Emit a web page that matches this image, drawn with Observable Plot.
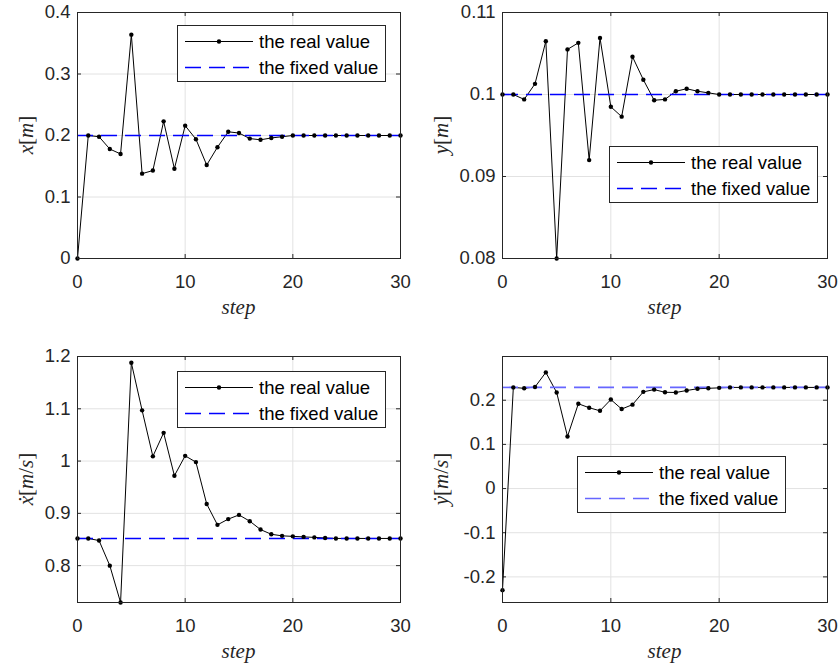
<!DOCTYPE html>
<html><head><meta charset="utf-8">
<script src="https://cdn.jsdelivr.net/npm/d3@7"></script>
<script src="https://cdn.jsdelivr.net/npm/@observablehq/plot@0.6"></script>
<style>
body{margin:0;background:#fff;}
#fig{position:relative;width:840px;height:668px;background:#fff;overflow:hidden;font-family:"Liberation Sans",Arial,sans-serif;color:#262626;}
.panel{position:absolute;}
.ylab{position:absolute;font-family:"Liberation Serif","DejaVu Serif",serif;font-size:21px;color:#262626;transform:translate(-50%,-50%) rotate(-90deg);white-space:nowrap;line-height:1;}
.xlab{position:absolute;font-family:"Liberation Serif","DejaVu Serif",serif;font-style:italic;font-size:21px;color:#262626;transform:translate(-50%,-50%);white-space:nowrap;line-height:1;}
.ylab i{font-style:italic;}
.legend{position:absolute;width:209px;height:57px;border:1px solid #262626;background:#fff;box-sizing:border-box;}
.legend .row{position:absolute;left:0;height:27px;width:100%;}
.legend svg{position:absolute;left:6px;top:0;}
.legend span{position:absolute;left:81px;top:50%;transform:translateY(-50%);font-size:18.5px;white-space:nowrap;color:#000;line-height:1;}
</style>
</head><body>
<div id="fig"></div>
<script>
// ---- data ----
const steps = [0,1,2,3,4,5,6,7,8,9,10,11,12,13,14,15,16,17,18,19,20,21,22,23,24,25,26,27,28,29,30];
const xTicks = [0, 10, 20, 30];

const xReal = [0, 0.200, 0.198, 0.178, 0.170, 0.364, 0.138, 0.143, 0.223, 0.146, 0.216, 0.194, 0.152, 0.181, 0.206, 0.204, 0.195, 0.193, 0.196, 0.198, 0.200, 0.200, 0.200, 0.200, 0.200, 0.200, 0.200, 0.200, 0.200, 0.200, 0.200];
const xFixed = 0.2;
const xYTicks = [0, 0.1, 0.2, 0.3, 0.4];

const yReal = [0.1000, 0.1000, 0.0994, 0.1013, 0.1065, 0.0800, 0.1055, 0.1063, 0.0920, 0.1069, 0.0985, 0.0973, 0.1046, 0.1018, 0.0993, 0.0994, 0.1004, 0.1007, 0.1004, 0.1002, 0.1000, 0.1000, 0.1000, 0.1000, 0.1000, 0.1000, 0.1000, 0.1000, 0.1000, 0.1000, 0.1000];
const yFixed = 0.1;
const yYTicks = [0.08, 0.09, 0.1, 0.11];

const xdReal = [0.852, 0.852, 0.848, 0.800, 0.7295, 1.188, 1.097, 1.009, 1.054, 0.972, 1.010, 0.998, 0.918, 0.878, 0.889, 0.897, 0.885, 0.869, 0.860, 0.857, 0.856, 0.855, 0.854, 0.853, 0.852, 0.852, 0.852, 0.852, 0.852, 0.852, 0.852];
const xdFixed = 0.852;
const xdYTicks = [0.8, 0.9, 1, 1.1, 1.2];

const ydReal = [-0.230, 0.229, 0.227, 0.230, 0.263, 0.2175, 0.118, 0.192, 0.183, 0.176, 0.2015, 0.180, 0.190, 0.219, 0.224, 0.218, 0.2175, 0.222, 0.226, 0.227, 0.228, 0.229, 0.229, 0.229, 0.229, 0.229, 0.229, 0.229, 0.229, 0.229, 0.229];
const ydFixed = 0.229;
const ydYTicks = [-0.2, -0.1, 0, 0.1, 0.2];

const legendLabels = ["the real value", "the fixed value"];

// ---- drawing ----
const fmt = d => String(Math.round(d * 1e6) / 1e6);
const fig = document.getElementById("fig");

const panels = [
  {left:0,   top:0,   ml:77, mr:20, mt:12, mb:76, domain:[0,0.4],         ticks:xYTicks,  real:xReal,  fixed:xFixed,  blue:"#0000ff",
   ylab:'<i>x</i>[<i>m</i>]',          lx:26,  ly:135, xlx:238.5, xly:307, legL:177, legT:25},
  {left:420, top:0,   ml:82, mr:13, mt:12, mb:76, domain:[0.08,0.11],     ticks:yYTicks,  real:yReal,  fixed:yFixed,  blue:"#0000ff",
   ylab:'<i>y</i>[<i>m</i>]',          lx:441, ly:135, xlx:664.5, xly:307, legL:609, legT:146},
  {left:0,   top:334, ml:77, mr:20, mt:22, mb:66, domain:[0.7295,1.2],    ticks:xdYTicks, real:xdReal, fixed:xdFixed, blue:"#0000ff",
   ylab:'<i>ẋ</i>[<i>m</i>/<i>s</i>]', lx:26,  ly:479, xlx:238.5, xly:651, legL:177, legT:371},
  {left:420, top:334, ml:82, mr:13, mt:22, mb:66, domain:[-0.258,0.299],  ticks:ydYTicks, real:ydReal, fixed:ydFixed, blue:"#6666ff",
   ylab:'<i>ẏ</i>[<i>m</i>/<i>s</i>]', lx:441, ly:479, xlx:664.5, xly:651, legL:577, legT:456}
];

for (const p of panels) {
  const data = steps.map((s, i) => ({step: s, v: p.real[i]}));
  const W = 420, H = 334;
  const fw = W - p.ml - p.mr, fh = H - p.mt - p.mb;
  const chart = Plot.plot({
    width: W, height: H,
    marginLeft: p.ml, marginRight: p.mr, marginTop: p.mt, marginBottom: p.mb,
    style: {background: "transparent", fontFamily: "'Liberation Sans', Arial, sans-serif", fontSize: "18.5px", color: "#262626", overflow: "visible"},
    x: {domain: [0, 30]},
    y: {domain: p.domain},
    marks: [
      Plot.gridX(xTicks, {stroke: "#e2e2e2", strokeOpacity: 1}),
      Plot.gridY(p.ticks, {stroke: "#e2e2e2", strokeOpacity: 1}),
      Plot.tickX(xTicks, {x: d => d, stroke: "#262626", insetTop: fh - 4}),
      Plot.tickX(xTicks, {x: d => d, stroke: "#262626", insetBottom: fh - 4}),
      Plot.tickY(p.ticks, {y: d => d, stroke: "#262626", insetRight: fw - 4}),
      Plot.tickY(p.ticks, {y: d => d, stroke: "#262626", insetLeft: fw - 4}),
      Plot.axisX(xTicks, {tickSize: 0, tickPadding: 16, label: null, tickFormat: fmt, fill: "#262626"}),
      Plot.axisY(p.ticks, {tickSize: 0, tickPadding: 7, label: null, tickFormat: fmt, fill: "#262626"}),
      Plot.line(data, {x: "step", y: "v", stroke: "black", strokeWidth: 1}),
      Plot.ruleY([p.fixed], {stroke: p.blue, strokeWidth: 1.6, strokeDasharray: "16,8"}),
      Plot.dot(data, {x: "step", y: "v", r: 2.2, fill: "black", stroke: "none"}),
      Plot.frame({stroke: "#262626", strokeWidth: 1})
    ]
  });
  const wrap = document.createElement("div");
  wrap.className = "panel";
  wrap.style.left = p.left + "px";
  wrap.style.top = p.top + "px";
  wrap.appendChild(chart);
  fig.appendChild(wrap);

  const yl = document.createElement("div");
  yl.className = "ylab";
  yl.innerHTML = p.ylab;
  yl.style.left = p.lx + "px"; yl.style.top = p.ly + "px";
  fig.appendChild(yl);

  const xl = document.createElement("div");
  xl.className = "xlab";
  xl.textContent = "step";
  xl.style.left = p.xlx + "px"; xl.style.top = p.xly + "px";
  fig.appendChild(xl);

  const lg = document.createElement("div");
  lg.className = "legend";
  lg.style.left = p.legL + "px"; lg.style.top = p.legT + "px";
  const rows = [
    `<svg width="70" height="27"><line x1="1" x2="69" y1="13.5" y2="13.5" stroke="black" stroke-width="1"/><circle cx="35" cy="13.5" r="2.2" fill="black"/></svg>`,
    `<svg width="70" height="27"><line x1="1" x2="69" y1="13.5" y2="13.5" stroke="${p.blue}" stroke-width="1.6" stroke-dasharray="16,8"/></svg>`
  ];
  rows.forEach((svg, i) => {
    const r = document.createElement("div");
    r.className = "row";
    r.style.top = (2 + i * 26) + "px";
    r.innerHTML = svg + `<span>${legendLabels[i]}</span>`;
    lg.appendChild(r);
  });
  fig.appendChild(lg);
}
</script>
</body></html>
